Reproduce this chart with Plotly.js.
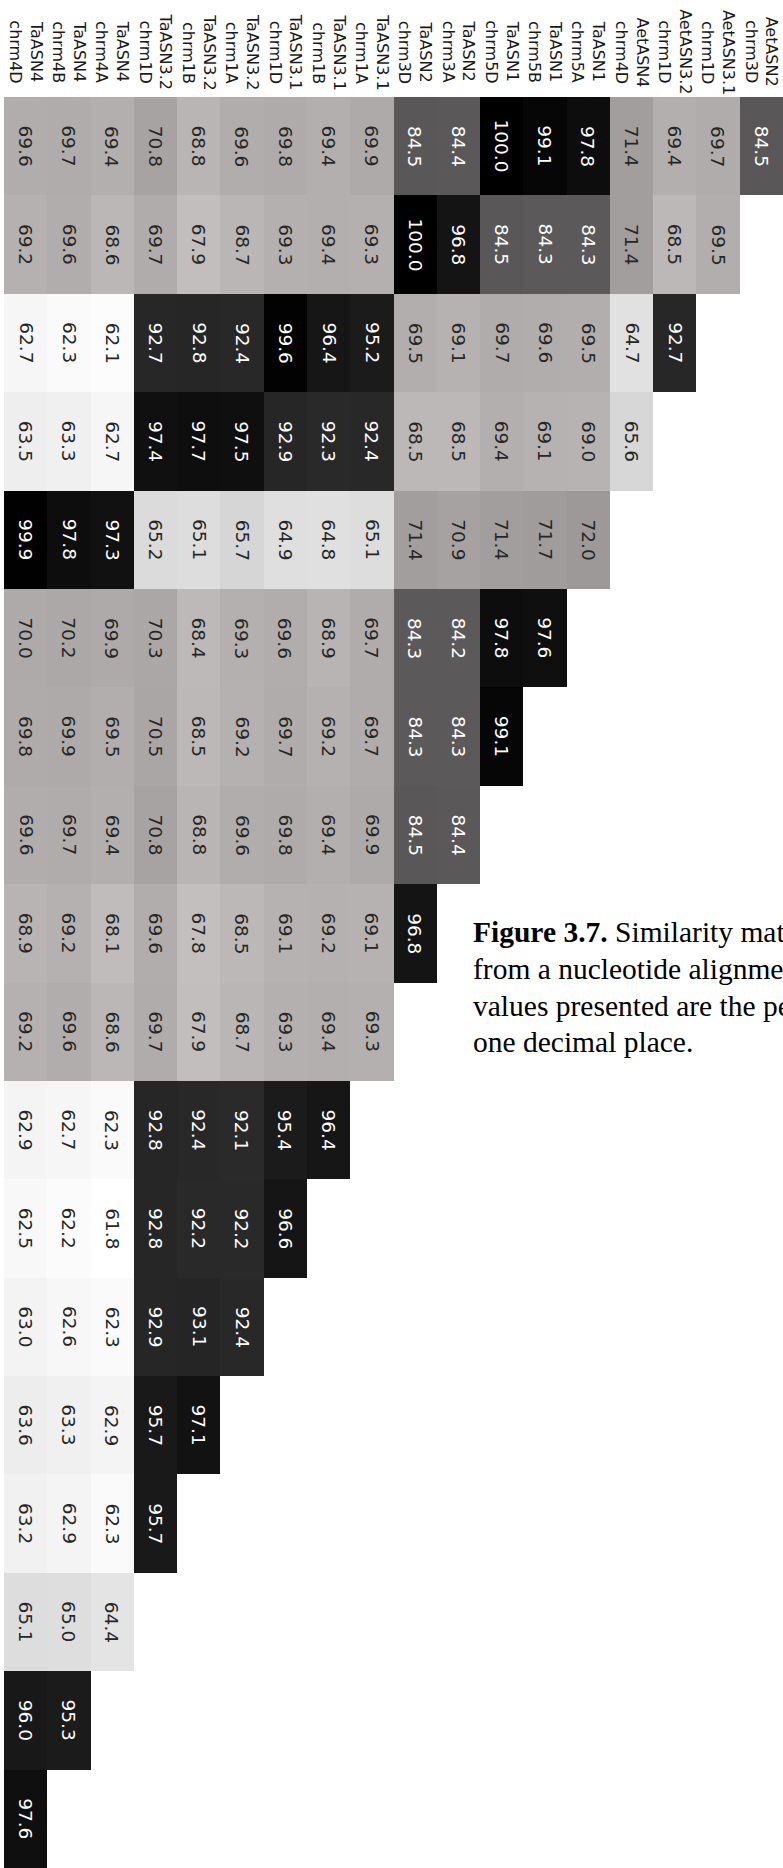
<!DOCTYPE html>
<html>
<head>
<meta charset="utf-8">
<script src="https://cdn.plot.ly/plotly-3.0.1.min.js"></script>
<style>
  html, body { margin: 0; padding: 0; background: #fff; overflow: hidden; }
  #chart { width: 783px; height: 1868px; }
</style>
</head>
<body>
<div id="chart"></div>
<script>
// Column labels (left to right), first line is gene, second is chromosome
const columnLabels = [
  "TaASN4<br>chrm4D", "TaASN4<br>chrm4B", "TaASN4<br>chrm4A",
  "TaASN3.2<br>chrm1D", "TaASN3.2<br>chrm1B", "TaASN3.2<br>chrm1A",
  "TaASN3.1<br>chrm1D", "TaASN3.1<br>chrm1B", "TaASN3.1<br>chrm1A",
  "TaASN2<br>chrm3D", "TaASN2<br>chrm3A",
  "TaASN1<br>chrm5D", "TaASN1<br>chrm5B", "TaASN1<br>chrm5A",
  "AetASN4<br>chrm4D", "AetASN3.2<br>chrm1D", "AetASN3.1<br>chrm1D", "AetASN2<br>chrm3D"
];

// Similarity values, one array per band (top to bottom), cells left to right
const band01 = [69.6, 69.7, 69.4, 70.8, 68.8, 69.6, 69.8, 69.4, 69.9, 84.5, 84.4, 100.0, 99.1, 97.8, 71.4, 69.4, 69.7, 84.5];
const band02 = [69.2, 69.6, 68.6, 69.7, 67.9, 68.7, 69.3, 69.4, 69.3, 100.0, 96.8, 84.5, 84.3, 84.3, 71.4, 68.5, 69.5];
const band03 = [62.7, 62.3, 62.1, 92.7, 92.8, 92.4, 99.6, 96.4, 95.2, 69.5, 69.1, 69.7, 69.6, 69.5, 64.7, 92.7];
const band04 = [63.5, 63.3, 62.7, 97.4, 97.7, 97.5, 92.9, 92.3, 92.4, 68.5, 68.5, 69.4, 69.1, 69.0, 65.6];
const band05 = [99.9, 97.8, 97.3, 65.2, 65.1, 65.7, 64.9, 64.8, 65.1, 71.4, 70.9, 71.4, 71.7, 72.0];
const band06 = [70.0, 70.2, 69.9, 70.3, 68.4, 69.3, 69.6, 68.9, 69.7, 84.3, 84.2, 97.8, 97.6];
const band07 = [69.8, 69.9, 69.5, 70.5, 68.5, 69.2, 69.7, 69.2, 69.7, 84.3, 84.3, 99.1];
const band08 = [69.6, 69.7, 69.4, 70.8, 68.8, 69.6, 69.8, 69.4, 69.9, 84.5, 84.4];
const band09 = [68.9, 69.2, 68.1, 69.6, 67.8, 68.5, 69.1, 69.2, 69.1, 96.8];
const band10 = [69.2, 69.6, 68.6, 69.7, 67.9, 68.7, 69.3, 69.4, 69.3];
const band11 = [62.9, 62.7, 62.3, 92.8, 92.4, 92.1, 95.4, 96.4];
const band12 = [62.5, 62.2, 61.8, 92.8, 92.2, 92.2, 96.6];
const band13 = [63.0, 62.6, 62.3, 92.9, 93.1, 92.4];
const band14 = [63.6, 63.3, 62.9, 95.7, 97.1];
const band15 = [63.2, 62.9, 62.3, 95.7];
const band16 = [65.1, 65.0, 64.4];
const band17 = [96.0, 95.3];
const band18 = [97.6];

const captionLines = [
  "<b>Figure 3.7.</b> Similarity matrix",
  "from a nucleotide alignment",
  "values presented are the percent",
  "one decimal place."
];

const bands = [band01, band02, band03, band04, band05, band06, band07, band08, band09,
               band10, band11, band12, band13, band14, band15, band16, band17, band18];

const nCols = columnLabels.length;
const nRows = bands.length;
const colIdx = columnLabels.map((_, i) => i);
const rowIdx = bands.map((_, i) => i);

const z = bands.map(b => colIdx.map(c => (c < b.length ? b[c] : null)));

const zmin = 61.8, zmax = 100;
// grey ramp anchored on value levels
const rampStops = [
  [61.8, 'rgb(255,255,255)'], [62.7, 'rgb(246,246,246)'], [63.5, 'rgb(238,238,238)'],
  [64.7, 'rgb(226,225,225)'], [65.6, 'rgb(216,215,215)'], [67.9, 'rgb(193,190,189)'],
  [69.6, 'rgb(177,173,172)'], [71.4, 'rgb(162,158,157)'], [72.0, 'rgb(157,153,152)'],
  [84.4, 'rgb(90,88,88)'], [92.4, 'rgb(40,40,40)'], [96.4, 'rgb(22,22,22)'],
  [100.0, 'rgb(0,0,0)']
];
const colorscale = rampStops.map(s => [(s[0] - zmin) / (zmax - zmin), s[1]]);

const W = 783, H = 1868;
const margin = { l: 4, r: 0, t: 97, b: 0 };
const plotH = H - margin.t - margin.b;
const plotW = W - margin.l - margin.r;
const pyToPaper = p => (H - margin.b - p) / plotH;
const pxToPaper = p => (p - margin.l) / plotW;

const annotations = [];

// column labels
columnLabels.forEach((lab, c) => {
  annotations.push({
    x: c, xref: 'x', y: pyToPaper(52), yref: 'paper',
    text: lab, textangle: 90, showarrow: false,
    xanchor: 'center', yanchor: 'middle', align: 'center',
    font: { family: 'DejaVu Sans', size: 16, color: '#1a1a1a' }
  });
});

// cell values
bands.forEach((b, r) => {
  b.forEach((v, c) => {
    annotations.push({
      x: c, xref: 'x', y: r, yref: 'y',
      text: v.toFixed(1), textangle: 90, showarrow: false,
      xanchor: 'center', yanchor: 'middle',
      font: { family: 'DejaVu Sans', size: 18.5, color: v >= 80 ? '#ffffff' : '#262626' }
    });
  });
});

// caption
const capCenters = [932, 969, 1006, 1042];
captionLines.forEach((t, i) => {
  annotations.push({
    x: pxToPaper(471), xref: 'paper', y: pyToPaper(capCenters[i]), yref: 'paper',
    text: t, showarrow: false, xanchor: 'left', yanchor: 'middle', align: 'left',
    font: { family: 'Liberation Serif', size: 29.5, color: '#000000' }
  });
});

const trace = {
  type: 'heatmap',
  x: colIdx, y: rowIdx, z: z,
  zmin: zmin, zmax: zmax,
  colorscale: colorscale,
  showscale: false,
  xgap: 0, ygap: 0,
  hoverinfo: 'skip'
};

const layout = {
  width: W, height: H,
  margin: margin,
  paper_bgcolor: '#ffffff', plot_bgcolor: '#ffffff',
  showlegend: false,
  xaxis: { range: [-0.5, nCols - 0.5], showticklabels: false, ticks: '', showgrid: false, zeroline: false, showline: false, fixedrange: true },
  yaxis: { range: [nRows - 0.5, -0.5], showticklabels: false, ticks: '', showgrid: false, zeroline: false, showline: false, fixedrange: true },
  annotations: annotations
};

Plotly.newPlot('chart', [trace], layout, { displayModeBar: false, staticPlot: true });
</script>
</body>
</html>
